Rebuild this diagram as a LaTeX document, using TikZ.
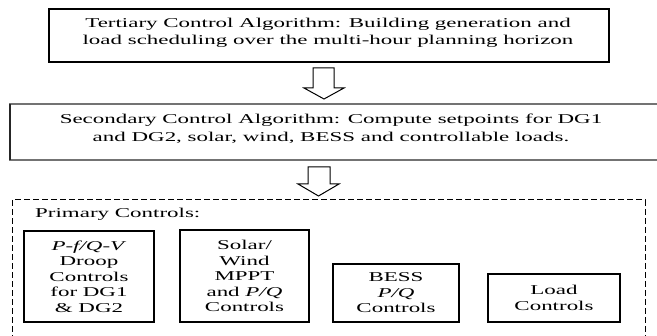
\documentclass[tikz,border=0pt]{standalone}
\usepackage{fontspec}
\setmainfont[FakeStretch=1.7]{Liberation Serif}
\begin{document}
\begin{tikzpicture}[x=1pt,y=-1pt,
  txt/.style={font=\fontsize{13.5}{17.5}\selectfont, align=center, inner sep=0pt},
  boxtxt/.style={draw=black, line width=1.1pt, font=\fontsize{13.5}{15.5}\selectfont, align=center, inner sep=0pt},
  blockarrow/.style={draw=black, line width=1pt, fill=white, line join=miter},
]
\useasboundingbox (0,0) rectangle (657,336);
% Tertiary
\node[draw=black, line width=1.1pt, minimum width=560pt, minimum height=53pt, inner sep=0pt] (tert) at (329,35.5) {};
\node[txt] (terttxt) at (328,33) {Tertiary Control Algorithm: Building generation and\\load scheduling over the multi-hour planning horizon};
% arrow 1
\draw[blockarrow] (313,68) -- (334,68) -- (334,88) -- (344,88) -- (324,99) -- (304,88) -- (313,88) -- cycle;
% Secondary
\draw[draw=black!55, line width=1.5pt] (10,104) rectangle (670,160);
\draw[draw=black!85, line width=1.2pt] (10,104) -- (10,160);
\node[txt] (sec) at (331,129) {Secondary Control Algorithm: Compute setpoints for DG1\\and DG2, solar, wind, BESS and controllable loads.};
% arrow 2
\draw[blockarrow] (308,167) -- (330,167) -- (330,184) -- (339,184) -- (318.5,196) -- (298,184) -- (308,184) -- cycle;
% Primary dashed frame
\draw[black, line width=1pt, dash pattern=on 6pt off 3pt] (12,350) -- (12,200) -- (645,200) -- (645,350);
\node[txt, anchor=base west] (prim) at (35,218) {Primary Controls:};
\node[boxtxt, minimum width=130pt, minimum height=91pt] (b1) at (89,276.5) {\textit{P-f/Q-V}\\Droop\\Controls\\for DG1\\\& DG2};
\node[boxtxt, minimum width=129pt, minimum height=92pt] (b2) at (244.5,276) {Solar/\\Wind\\MPPT\\and \textit{P/Q}\\Controls};
\node[boxtxt, minimum width=126pt, minimum height=58pt] (b3) at (396,293) {BESS\\\textit{P/Q}\\Controls};
\node[boxtxt, minimum width=132pt, minimum height=48pt] (b4) at (554,298) {Load\\Controls};
\end{tikzpicture}
\end{document}
